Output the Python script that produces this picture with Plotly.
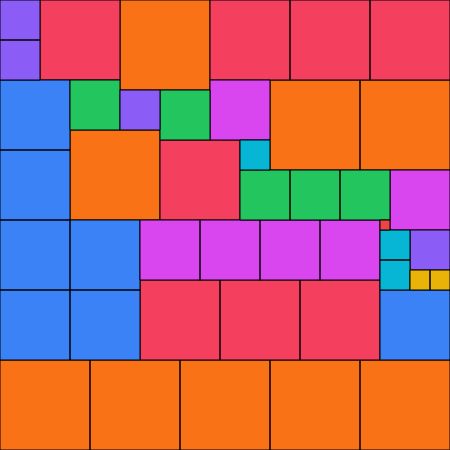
import plotly.graph_objects as go

# square side length per category and its colour
sizes = [90, 80, 70, 60, 50, 40, 30, 20, 10]
colors = ["#f97316", "#f43f5e", "#3b82f6", "#d946ef", "#22c55e",
          "#8b5cf6", "#06b6d4", "#eab308", "#ef4444"]
# top-left corners of the squares of each category
x0s = [
    [120, 270, 360, 70, 0, 90, 180, 270, 360],
    [40, 210, 290, 370, 160, 140, 220, 300],
    [0, 0, 0, 70, 0, 70, 380],
    [210, 390, 140, 200, 260, 320],
    [70, 160, 240, 290, 340],
    [0, 0, 120, 410],
    [240, 380, 380],
    [410, 430],
    [380],
]
y0s = [
    [0, 80, 80, 130, 360, 360, 360, 360, 360],
    [0, 0, 0, 0, 140, 280, 280, 280],
    [80, 150, 220, 220, 290, 290, 290],
    [80, 170, 220, 220, 220, 220],
    [80, 90, 170, 170, 170],
    [0, 40, 90, 230],
    [140, 230, 260],
    [270, 270],
    [220],
]

fig = go.Figure()
for s, c, xs, ys in zip(sizes, colors, x0s, y0s):
    px, py = [], []
    for x, y in zip(xs, ys):
        px += [x, x + s, x + s, x, x, None]
        py += [y, y, y + s, y + s, y, None]
    fig.add_trace(go.Scatter(x=px, y=py, mode="lines", fill="toself",
                             fillcolor=c, line=dict(color="#000", width=1),
                             hoverinfo="skip", showlegend=False))

fig.update_layout(
    width=450, height=450, margin=dict(l=0, r=0, t=0, b=0),
    paper_bgcolor="white", plot_bgcolor="white",
    xaxis=dict(range=[0, 450], visible=False, fixedrange=True),
    yaxis=dict(range=[450, 0], visible=False, fixedrange=True),
)
fig.write_html("out.html", config={"displayModeBar": False},
               post_script="document.body.style.margin='0';document.body.style.overflow='hidden';")
